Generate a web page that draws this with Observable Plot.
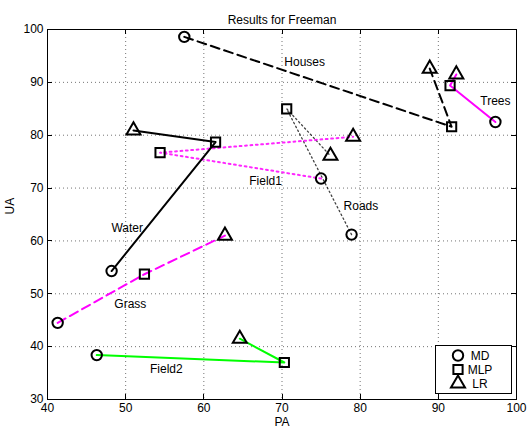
<!DOCTYPE html>
<html><head><meta charset="utf-8">
<script src="https://cdn.jsdelivr.net/npm/d3@7"></script>
<script src="https://cdn.jsdelivr.net/npm/@observablehq/plot@0.6"></script>
<style>body{margin:0;background:#fff;} #chart{width:527px;height:432px;}</style>
</head><body><div id="chart"></div>
<script>
// ---- data ----
const methods = ["MD", "MLP", "LR"];
const methodSymbols = ["circle", "square", "triangle"];
const classNames = ["Houses", "Trees", "Roads", "Field1", "Water", "Grass", "Field2"];
// values in order MD, MLP, LR
const housesPA = [57.5, 91.7, 88.9], housesUA = [98.6, 81.6, 92.6];
const treesPA  = [97.3, 91.5, 92.3], treesUA  = [82.5, 89.4, 91.5];
const roadsPA  = [78.9, 70.6, 76.2], roadsUA  = [61.2, 85.0, 76.1];
const field1PA = [75.0, 54.4, 79.1], field1UA = [71.8, 76.7, 79.7];
const waterPA  = [48.2, 61.5, 51.0], waterUA  = [54.3, 78.7, 80.9];
const grassPA  = [41.3, 52.4, 62.7], grassUA  = [44.5, 53.7, 61.0];
const field2PA = [46.3, 70.3, 64.6], field2UA = [38.4, 37.0, 41.5];
// annotation anchor for each class name
const labelPA = [72.9, 97.3, 80.1, 67.9, 50.2, 50.6, 55.2];
const labelUA = [93.9, 86.5, 66.6, 71.3, 62.4, 48.0, 35.7];
const xTicks = [40, 50, 60, 70, 80, 90, 100];
const yTicks = [30, 40, 50, 60, 70, 80, 90, 100];
const titleText = "Results for Freeman";
const xLabel = "PA", yLabel = "UA";

// ---- styles ----
const classStyles = [
  {stroke: "#000000", dash: "9,5", width: 2, opacity: 1},
  {stroke: "#ff00ff", dash: null, width: 2, opacity: 1},
  {stroke: "#000000", dash: "1.5,2.8", width: 1.3, opacity: 0.75},
  {stroke: "#ff00ff", dash: "1.8,3.6", width: 2, opacity: 0.85},
  {stroke: "#000000", dash: null, width: 2, opacity: 1},
  {stroke: "#ff00ff", dash: "9,5", width: 2, opacity: 1},
  {stroke: "#00ff00", dash: null, width: 2, opacity: 1}
];

const paArrays = [housesPA, treesPA, roadsPA, field1PA, waterPA, grassPA, field2PA];
const uaArrays = [housesUA, treesUA, roadsUA, field1UA, waterUA, grassUA, field2UA];
const rows = [];
classNames.forEach((c, i) => methods.forEach((m, j) => rows.push({cls: c, method: m, pa: paArrays[i][j], ua: uaArrays[i][j]})));

const lineMarks = classNames.map((c, i) => Plot.line(rows.filter(r => r.cls === c), {
  x: "pa", y: "ua", stroke: classStyles[i].stroke, strokeWidth: classStyles[i].width,
  strokeOpacity: classStyles[i].opacity,
  strokeDasharray: classStyles[i].dash || undefined
}));

const chart = Plot.plot({
  width: 527, height: 432,
  marginLeft: 47, marginRight: 11, marginTop: 29, marginBottom: 33,
  style: {fontFamily: "'Liberation Sans', Arial, sans-serif", fontSize: "12px", color: "#000", background: "#fff"},
  x: {domain: [40, 100]},
  y: {domain: [30, 100]},
  symbol: {domain: methods, range: methodSymbols},
  marks: [
    Plot.gridX(xTicks.slice(1, -1), {stroke: "#000", strokeOpacity: 0.55, strokeDasharray: "1,3"}),
    Plot.gridY(yTicks.slice(1, -1), {stroke: "#000", strokeOpacity: 0.55, strokeDasharray: "1,3"}),
    ...lineMarks,
    Plot.dot(rows, {x: "pa", y: "ua", symbol: "method", r: 5.2, stroke: "#000", strokeWidth: 2, fill: "none"}),
    Plot.text(classNames, {x: (d, i) => labelPA[i], y: (d, i) => labelUA[i], text: d => d, fontSize: 12, fill: "#000"}),
    Plot.frame({stroke: "#000", strokeWidth: 1}),
    Plot.axisX(xTicks, {anchor: "bottom", tickSize: 0, tickPadding: 4, label: null, fontSize: 12}),
    Plot.axisY(yTicks, {anchor: "left", tickSize: 0, tickPadding: 4, label: null, fontSize: 12}),
    Plot.text([titleText], {frameAnchor: "top", dy: -14, fontSize: 12}),
    Plot.text([xLabel], {frameAnchor: "bottom", dy: 26, fontSize: 12}),
    Plot.text([yLabel], {frameAnchor: "left", dx: -37, rotate: -90, fontSize: 12})
  ]
});

// inward ticks on all four sides, positioned by the plot's own scales
const sx = chart.scale("x"), sy = chart.scale("y");
const svg = d3.select(chart);
const x0 = sx.apply(40), x1 = sx.apply(100), y0 = sy.apply(30), y1 = sy.apply(100);
const tg = svg.append("g").attr("stroke", "#000").attr("stroke-width", 1);
xTicks.forEach(v => {
  const px = Math.round(sx.apply(v)) + 0.5;
  tg.append("line").attr("x1", px).attr("x2", px).attr("y1", y0).attr("y2", y0 - 5);
  tg.append("line").attr("x1", px).attr("x2", px).attr("y1", y1).attr("y2", y1 + 5);
});
yTicks.forEach(v => {
  const py = Math.round(sy.apply(v)) + 0.5;
  tg.append("line").attr("y1", py).attr("y2", py).attr("x1", x0).attr("x2", x0 + 5);
  tg.append("line").attr("y1", py).attr("y2", py).attr("x1", x1).attr("x2", x1 - 5);
});

// legend inside plot, lower right
const lg = svg.append("g").attr("transform", `translate(${x1 - 81},${y0 - 54})`);
lg.append("rect").attr("x", 0.5).attr("y", 0.5).attr("width", 76).attr("height", 48)
  .attr("fill", "#fff").attr("stroke", "#000").attr("stroke-width", 1);
const d3sym = {circle: d3.symbolCircle, square: d3.symbolSquare, triangle: d3.symbolTriangle};
methods.forEach((m, j) => {
  const yy = 10.5 + 14 * j;
  lg.append("path").attr("transform", `translate(23,${yy})`)
    .attr("d", d3.symbol(d3sym[methodSymbols[j]], Math.PI * 5.2 * 5.2)())
    .attr("fill", "none").attr("stroke", "#000").attr("stroke-width", 2);
  lg.append("text").attr("x", 45).attr("y", yy).attr("dy", "0.35em")
    .attr("font-size", 12).attr("fill", "#000").text(m);
});

document.getElementById("chart").appendChild(chart);
</script>
</body></html>
